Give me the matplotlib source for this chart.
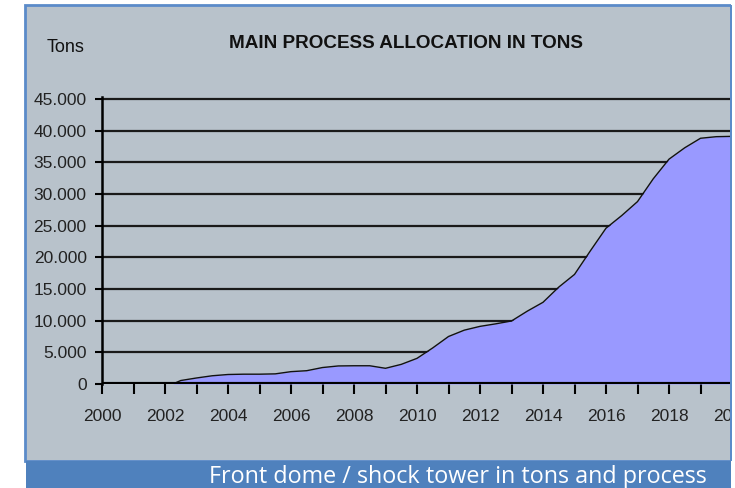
import matplotlib
matplotlib.use('Agg')
import matplotlib.pyplot as plt
from matplotlib.patches import Rectangle
from matplotlib.ticker import FuncFormatter

# data (half-year steps)
years = [2000.0, 2000.5, 2001.0, 2001.5, 2002.0, 2002.25, 2002.5, 2003.0, 2003.5, 2004.0,
         2004.5, 2005.0, 2005.5, 2006.0, 2006.5, 2007.0, 2007.5, 2008.0, 2008.5, 2009.0,
         2009.5, 2010.0, 2010.5, 2011.0, 2011.5, 2012.0, 2012.5, 2013.0, 2013.5, 2014.0,
         2014.5, 2015.0, 2015.5, 2016.0, 2016.5, 2017.0, 2017.5, 2018.0, 2018.5, 2019.0,
         2019.5, 2020.0]
tons = [0, 0, 0, 0, 0, 0, 550, 950, 1300, 1500,
        1550, 1550, 1600, 1950, 2100, 2600, 2850, 2880, 2880, 2480,
        3100, 4050, 5700, 7500, 8500, 9100, 9500, 9950, 11500, 12900,
        15300, 17300, 21000, 24600, 26600, 28800, 32400, 35500, 37300, 38800,
        39050, 39100]
y_ticks = [0, 5000, 10000, 15000, 20000, 25000, 30000, 35000, 40000, 45000]
x_labels = [2000, 2002, 2004, 2006, 2008, 2010, 2012, 2014, 2016, 2018, 2020]

W, H = 735, 488
fig = plt.figure(figsize=(W / 100, H / 100), dpi=100)
fig.patch.set_facecolor('white')

def fx(px):
        return px / W

def fy(py):
        return 1 - py / H

#grey panel and blue banner
fig.add_artist(Rectangle((fx(25), fy(461)), fx(706), 456 / H, transform=fig.transFigure,
                         facecolor='#b8c2cb', edgecolor='#5b8bc9', lw=2, zorder=-5))
fig.add_artist(Rectangle((fx(26), 0), fx(705), 27 / H, transform=fig.transFigure,
                         facecolor='#4f81bd', edgecolor='none', zorder=-4))

ytop = 45300
ax_left, ax_right = 102, 732
y0_px, y45_px = 384, 99
ax_h = (y0_px - y45_px) * ytop / 45000
ax = fig.add_axes([fx(ax_left), fy(y0_px), fx(ax_right - ax_left), ax_h / H])
ax.set_facecolor('none')

ax.fill_between(years, tons, 0, color='#9999ff', zorder=2, lw=0)
ax.plot(years, tons, color='#111111', lw=1, zorder=3)

for v in y_ticks[1:]:
        ax.axhline(v, color='#1a1a1a', lw=1.6, zorder=1)
ax.axhline(0, color='black', lw=3, zorder=4)

ax.set_xlim(2000, 2020)
ax.set_ylim(0, ytop)
ax.set_xticks(x_labels)
ax.set_xticks(range(2001, 2020, 2), minor=True)
ax.set_yticks(y_ticks)
ax.yaxis.set_major_formatter(FuncFormatter(lambda v, p: '0' if v == 0 else f'{int(v):,}'.replace(',', '.')))

for s in ['top', 'right', 'bottom']:
        ax.spines[s].set_visible(False)
ax.spines['left'].set_linewidth(1.8)
ax.spines['left'].set_color('black')

ax.tick_params(axis='y', length=5, width=1.5, pad=6, labelsize=12.5, colors='black')
ax.tick_params(axis='x', which='both', length=7, width=1.5, pad=11, labelsize=12.5, colors='black')
for lab in ax.get_xticklabels() + ax.get_yticklabels():
        lab.set_family(['Liberation Sans', 'DejaVu Sans'])
        lab.set_color('#222222')

fig.text(fx(66), fy(47), 'Tons', ha='center', va='center', fontsize=13,
         family=['Liberation Sans', 'DejaVu Sans'], color='#111111')
fig.text(fx(406), fy(44), 'MAIN PROCESS ALLOCATION IN TONS', ha='center', va='center',
         fontsize=13.6, fontweight='bold',
         family=['Liberation Sans', 'DejaVu Sans'], color='#111111')
fig.text(fx(458), fy(477), 'Front dome / shock tower in tons and process', ha='center', va='center',
         fontsize=16.8, family=['Open Sans', 'DejaVu Sans'], color='white')

#cut off at the right edge like the reference
fig.add_artist(Rectangle((fx(731), 0), fx(4), 1, transform=fig.transFigure,
                         facecolor='white', edgecolor='none', zorder=10))
fig.add_artist(Rectangle((fx(730), fy(461)), fx(1.5), 456 / H, transform=fig.transFigure,
                         facecolor='#5b8bc9', edgecolor='none', zorder=11))

fig.savefig('out.png', dpi=100)
